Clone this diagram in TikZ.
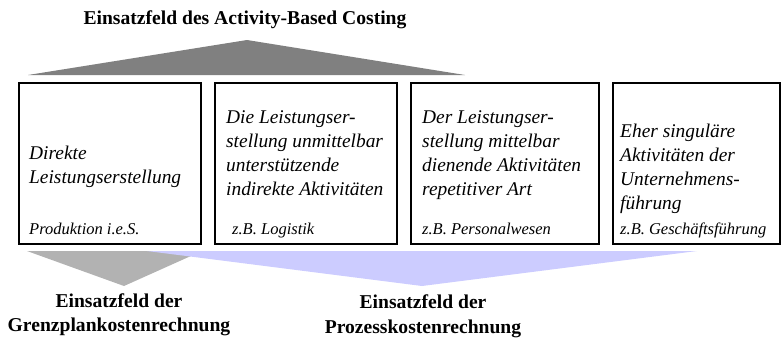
\documentclass[tikz,border=0pt]{standalone}
\usepackage{fontspec}
\setmainfont{Liberation Serif}
\definecolor{topgray}{HTML}{808080}
\definecolor{botgray}{HTML}{B2B2B2}
\definecolor{lav}{HTML}{CCCCFF}
\begin{document}
\begin{tikzpicture}[x=1pt,y=-1pt,
  box/.style={draw=black, line width=1.8pt, fill=none, inner sep=0pt},
  maintext/.style={anchor=base west, inner sep=0pt, font=\fontsize{19.4}{24}\selectfont\itshape},
  extext/.style={anchor=base west, inner sep=0pt, font=\fontsize{16.5}{20}\selectfont\itshape},
  ttl/.style={anchor=base, inner sep=0pt, font=\fontsize{19.6}{24.5}\selectfont\bfseries}]
\useasboundingbox (0,0) rectangle (782,338);

% fields
\fill[topgray] (28,75) -- (247,40) -- (465,75) -- cycle;
\fill[botgray] (27,251) -- (202,251) -- (124,286) -- cycle;
\fill[lav] (147,251) -- (697,251) -- (422,286) -- cycle;

% title
\node[ttl] (title) at (245,24.5) {Einsatzfeld des Activity-Based Costing};

% boxes
\node[box, minimum width=182, minimum height=161] (b1) at (110,163.5) {};
\node[box, minimum width=182, minimum height=161] (b2) at (306,163.5) {};
\node[box, minimum width=188, minimum height=161] (b3) at (505,163.5) {};
\node[box, minimum width=167, minimum height=161] (b4) at (696.5,163.5) {};

% box texts
\node[maintext] (t1) at (29,159) {\begin{tabular}[t]{@{}l@{}}Direkte\\Leistungserstellung\end{tabular}};
\node[extext] (e1) at (29,234) {Produktion i.e.S.};

\node[maintext] (t2) at (226,123) {\begin{tabular}[t]{@{}l@{}}Die Leistungser-\\stellung unmittelbar\\unterstützende\\indirekte Aktivitäten\end{tabular}};
\node[extext] (e2) at (232,234) {z.B. Logistik};

\node[maintext] (t3) at (422,123) {\begin{tabular}[t]{@{}l@{}}Der Leistungser-\\stellung mittelbar\\dienende Aktivitäten\\repetitiver Art\end{tabular}};
\node[extext] (e3) at (422,234) {z.B. Personalwesen};

\node[maintext] (t4) at (620,137) {\begin{tabular}[t]{@{}l@{}}Eher singuläre\\Aktivitäten der\\Unternehmens-\\führung\end{tabular}};
\node[extext] (e4) at (620,234) {z.B. Geschäftsführung};

% bottom labels
\node[ttl] (l1) at (119,307) {\begin{tabular}[t]{@{}c@{}}Einsatzfeld der\\Grenzplankostenrechnung\end{tabular}};
\node[ttl] (l2) at (423,308.5) {\begin{tabular}[t]{@{}c@{}}Einsatzfeld der\\Prozesskostenrechnung\end{tabular}};
\end{tikzpicture}
\end{document}
